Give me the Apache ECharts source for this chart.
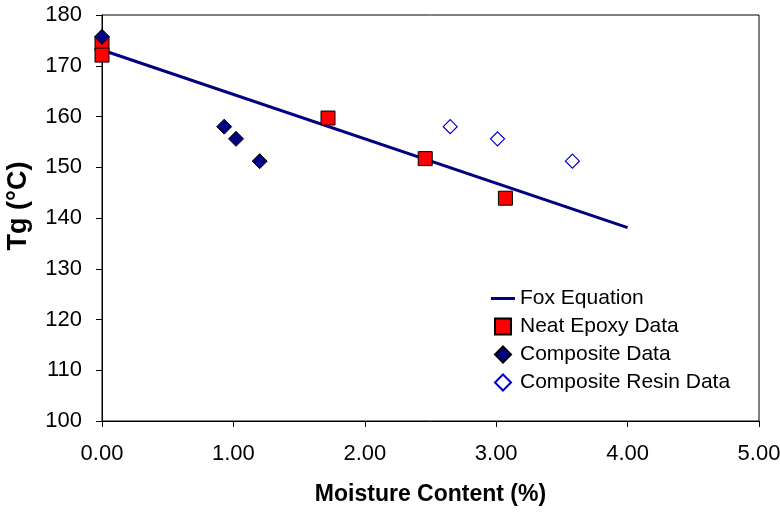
<!DOCTYPE html>
<html><head><meta charset="utf-8">
<script src="https://cdn.jsdelivr.net/npm/echarts@6/dist/echarts.min.js"></script>
<style>html,body{margin:0;padding:0;background:#fff}#c{width:780px;height:512px}</style>
</head><body><div id="c"></div>
<script>
const foxX = [0, 4.0];
const foxY = [173.1, 138.1];
const neatX = [0, 0, 1.72, 2.46, 3.07];
const neatY = [174.4, 172.1, 159.7, 151.7, 143.9];
const compX = [0, 0.93, 1.02, 1.20];
const compY = [175.7, 158.0, 155.6, 151.2];
const resinX = [2.65, 3.01, 3.58];
const resinY = [158.0, 155.6, 151.2];
const xTicks = ['0.00','1.00','2.00','3.00','4.00','5.00'];

const zip = (a, b) => a.map((v, i) => [v, b[i]]);
const font = 'Liberation Sans, Arial, sans-serif';
const chart = echarts.init(document.getElementById('c'));
chart.setOption({
  animation: false,
  grid: {left: 102, right: 21, top: 15, bottom: 91, containLabel: false, outerBoundsMode: 'none',
         show: true, borderColor: '#000', borderWidth: 1, backgroundColor: 'transparent'},
  xAxis: {
    type: 'value', min: 0, max: 5, interval: 1,
    name: 'Moisture Content (%)', nameLocation: 'middle', nameGap: 62,
    nameTextStyle: {fontFamily: font, fontSize: 23, fontWeight: 'bold', color: '#000'},
    axisLine: {show: true, onZero: false, lineStyle: {color: '#000', width: 1}},
    axisTick: {show: true, length: 6, lineStyle: {color: '#000'}},
    axisLabel: {fontFamily: font, fontSize: 22, color: '#000', margin: 22, formatter: v => xTicks[Math.round(v)]},
    splitLine: {show: false}
  },
  yAxis: {
    type: 'value', min: 100, max: 180, interval: 10,
    name: 'Tg (°C)', nameLocation: 'middle', nameGap: 70, nameRotate: 90,
    nameTextStyle: {fontFamily: font, fontSize: 27, fontWeight: 'bold', color: '#000', padding: [0, 0, 0, 24]},
    axisLine: {show: true, lineStyle: {color: '#000', width: 1}},
    axisTick: {show: true, length: 6, lineStyle: {color: '#000'}},
    axisLabel: {fontFamily: font, fontSize: 22, color: '#000', margin: 20},
    splitLine: {show: false}
  },
  legend: {
    orient: 'vertical', left: 486, top: 283, itemGap: 7,
    itemWidth: 24, itemHeight: 16,
    textStyle: {fontFamily: font, fontSize: 21, color: '#000'},
    data: [
      {name: 'Fox Equation', icon: 'path://M0,0L24,0L24,3L0,3Z'},
      {name: 'Neat Epoxy Data', icon: 'path://M0,0L16,0L16,16L0,16Z'},
      {name: 'Composite Data', icon: 'path://M8,0L16,8L8,16L0,8Z'},
      {name: 'Composite Resin Data', icon: 'path://M8,0L16,8L8,16L0,8Z'}
    ]
  },
  series: [
    {name: 'Fox Equation', type: 'line', data: zip(foxX, foxY), symbol: 'none', showSymbol: false,
     lineStyle: {color: '#000080', width: 3}, itemStyle: {color: '#000080'}, z: 2},
    {name: 'Neat Epoxy Data', type: 'scatter', data: zip(neatX, neatY), symbol: 'rect', symbolSize: 14,
     itemStyle: {color: '#ff0000', borderColor: '#000', borderWidth: 1, opacity: 1}, z: 3},
    {name: 'Composite Data', type: 'scatter', data: zip(compX, compY), symbol: 'diamond', symbolSize: 15,
     itemStyle: {color: '#000080', borderColor: '#000', borderWidth: 1, opacity: 1}, z: 4},
    {name: 'Composite Resin Data', type: 'scatter', data: zip(resinX, resinY), symbol: 'diamond', symbolSize: 14,
     itemStyle: {color: '#fff', borderColor: '#0000cc', borderWidth: 1.2, opacity: 1}, z: 4}
  ]
});
</script></body></html>
